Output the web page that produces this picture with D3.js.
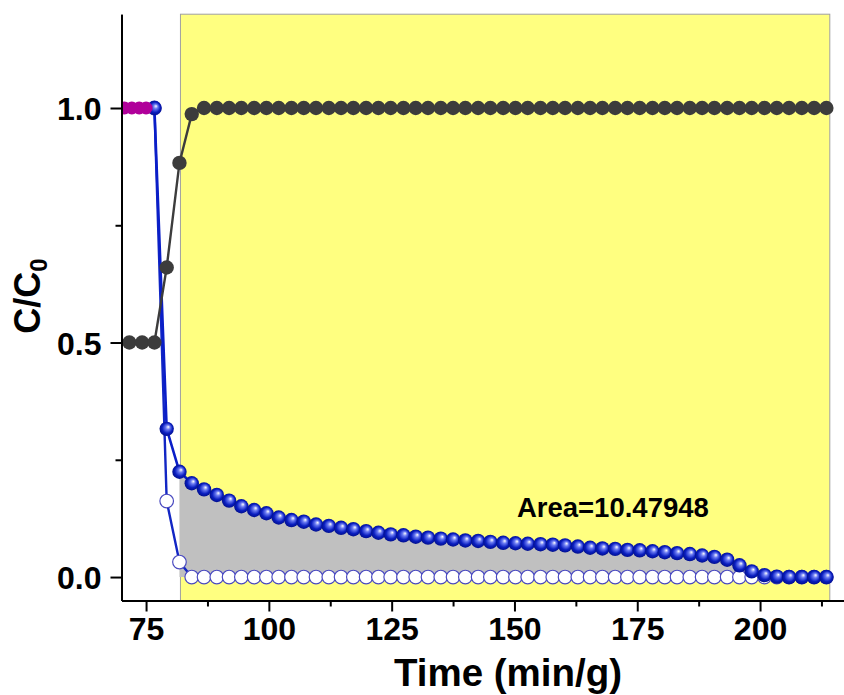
<!DOCTYPE html>
<html>
<head>
<meta charset="utf-8">
<script src="https://cdn.jsdelivr.net/npm/d3@7"></script>
<style>
  body { margin: 0; background: #fff; }
  svg { display: block; font-family: "Liberation Sans", Arial, sans-serif; }
</style>
</head>
<body>
<div id="chart"></div>
<script>
const FRAME_WIDTH = 844;
const FRAME_HEIGHT = 695;
const MARGINS = {left: 121.5, top: 14.2, bottom: 94.5};
const VIS_HEIGHT = FRAME_HEIGHT - MARGINS.top - MARGINS.bottom;

// time axis (min/g), one per sample
const TIMES = [71.6, 74.2, 76.7, 79.2, 81.8, 84.3, 86.8, 89.4, 91.9, 94.4,
               97.0, 99.5, 102.0, 104.6, 107.1, 109.6, 112.2, 114.7, 117.2, 119.8,
               122.3, 124.8, 127.4, 129.9, 132.4, 135.0, 137.5, 140.0, 142.6, 145.1,
               147.7, 150.2, 152.7, 155.3, 157.8, 160.3, 162.9, 165.4, 167.9, 170.5,
               173.0, 175.5, 178.1, 180.6, 183.1, 185.7, 188.2, 190.7, 193.3, 195.8,
               198.3, 200.9, 203.4, 205.9, 208.5, 211.0, 213.5];

// dark gray series
const GRAY_SERIES = [0.5, 0.5, 0.5, 0.66, 0.883, 0.987, 1, 1, 1, 1,
                     1, 1, 1, 1, 1, 1, 1, 1, 1, 1,
                     1, 1, 1, 1, 1, 1, 1, 1, 1, 1,
                     1, 1, 1, 1, 1, 1, 1, 1, 1, 1,
                     1, 1, 1, 1, 1, 1, 1, 1, 1, 1,
                     1, 1, 1, 1, 1, 1, 1];

// blue ball series
const BLUE_SERIES = [null, null, 1.0, 0.316, 0.2245, 0.200, 0.187, 0.175, 0.163, 0.151,
                     0.143, 0.136, 0.127, 0.1215, 0.118, 0.112, 0.109, 0.105, 0.102, 0.098,
                     0.0945, 0.091, 0.089, 0.086, 0.084, 0.082, 0.080, 0.078, 0.077, 0.075,
                     0.073, 0.072, 0.071, 0.070, 0.069, 0.0675, 0.065, 0.0625, 0.061, 0.060,
                     0.058, 0.057, 0.055, 0.053, 0.051, 0.049, 0.046, 0.043, 0.037, 0.025,
                     0.012, 0.004, 0.001, 0, 0, 0, 0];

// open circle series
const OPEN_SERIES = [null, null, 1.0, 0.162, 0.032, 0, 0, 0, 0, 0,
                     0, 0, 0, 0, 0, 0, 0, 0, 0, 0,
                     0, 0, 0, 0, 0, 0, 0, 0, 0, 0,
                     0, 0, 0, 0, 0, 0, 0, 0, 0, 0,
                     0, 0, 0, 0, 0, 0, 0, 0, 0, 0,
                     0, 0, 0, 0, 0, 0, 0];

// magenta points before the run
const MAGENTA_TIMES = [70.6, 72.1, 73.6, 75.0];
const MAGENTA_SERIES = [1, 1, 1, 1];

// highlighted window and integrated area
const WINDOW = [82.0, 214.2];
const AREA_FROM = 81.8;
const AREA_LABEL = "Area=10.47948";

const X_TICKS = [75, 100, 125, 150, 175, 200];
const X_MINOR = [87.5, 112.5, 137.5, 162.5, 187.5, 212.5];
const Y_TICKS = [0, 0.5, 1.0];
const Y_MINOR = [0.25, 0.75];

const SVG = d3.select("#chart")
  .append("svg")
    .attr("width", FRAME_WIDTH)
    .attr("height", FRAME_HEIGHT);

const X_SCALE = d3.scaleLinear()
  .domain([70, 218])
  .range([MARGINS.left, MARGINS.left + 148 * 4.912]);

const Y_SCALE = d3.scaleLinear()
  .domain([-0.05, 1.2])
  .range([MARGINS.top + VIS_HEIGHT, MARGINS.top]);

const defs = SVG.append("defs");
const grad = defs.append("radialGradient")
  .attr("id", "ball")
  .attr("cx", "50%").attr("cy", "50%").attr("r", "55%")
  .attr("fx", "62%").attr("fy", "36%");
grad.append("stop").attr("offset", "0%").attr("stop-color", "#ffffff");
grad.append("stop").attr("offset", "28%").attr("stop-color", "#6a7af2");
grad.append("stop").attr("offset", "65%").attr("stop-color", "#0a1ec0");
grad.append("stop").attr("offset", "100%").attr("stop-color", "#000c80");

defs.append("clipPath").attr("id", "plot")
  .append("rect")
    .attr("x", MARGINS.left)
    .attr("y", 0)
    .attr("width", FRAME_WIDTH)
    .attr("height", MARGINS.top + VIS_HEIGHT);

const PLOT = SVG.append("g").attr("clip-path", "url(#plot)");

// yellow window
PLOT.append("rect")
  .attr("x", X_SCALE(WINDOW[0]))
  .attr("y", Y_SCALE(1.2))
  .attr("width", X_SCALE(WINDOW[1]) - X_SCALE(WINDOW[0]))
  .attr("height", Y_SCALE(-0.05) - Y_SCALE(1.2))
  .attr("fill", "#ffff80")
  .attr("stroke", "#a0a0a0")
  .attr("stroke-width", 1);

const rows = (vals) => TIMES.map((t, i) => ({t: t, v: vals[i]})).filter(d => d.v !== null);
const GRAY_DATA = rows(GRAY_SERIES);
const BLUE_DATA = rows(BLUE_SERIES);
const OPEN_DATA = rows(OPEN_SERIES);
const MAGENTA_DATA = MAGENTA_TIMES.map((t, i) => ({t: t, v: MAGENTA_SERIES[i]}));

// shaded area under the blue curve inside the window
PLOT.append("path")
  .datum(BLUE_DATA.filter(d => d.t >= AREA_FROM))
  .attr("fill", "#c0c0c0")
  .attr("d", d3.area()
    .x(d => X_SCALE(d.t))
    .y0(Y_SCALE(0))
    .y1(d => Y_SCALE(d.v)));

const line = d3.line().x(d => X_SCALE(d.t)).y(d => Y_SCALE(d.v));

// open circles
PLOT.append("path").datum(OPEN_DATA)
  .attr("fill", "none").attr("stroke", "#1226c4").attr("stroke-width", 2.4)
  .attr("d", line);
PLOT.selectAll(".open").data(OPEN_DATA).enter().append("circle")
  .attr("cx", d => X_SCALE(d.t)).attr("cy", d => Y_SCALE(d.v)).attr("r", 6.8)
  .attr("fill", "#fff").attr("stroke", "#4a4ac0").attr("stroke-width", 1.2);

// blue balls
PLOT.append("path").datum(BLUE_DATA)
  .attr("fill", "none").attr("stroke", "#0a1ec8").attr("stroke-width", 2.6)
  .attr("d", line);
PLOT.selectAll(".ball").data(BLUE_DATA).enter().append("circle")
  .attr("cx", d => X_SCALE(d.t)).attr("cy", d => Y_SCALE(d.v)).attr("r", 7.2)
  .attr("fill", "url(#ball)");

// gray series
PLOT.append("path").datum(GRAY_DATA)
  .attr("fill", "none").attr("stroke", "#3c3c3c").attr("stroke-width", 2.4)
  .attr("d", line);
PLOT.selectAll(".gray").data(GRAY_DATA).enter().append("circle")
  .attr("cx", d => X_SCALE(d.t)).attr("cy", d => Y_SCALE(d.v)).attr("r", 7.2)
  .attr("fill", "#3c3c3c");

// magenta
PLOT.append("path").datum(MAGENTA_DATA)
  .attr("fill", "none").attr("stroke", "#b0009a").attr("stroke-width", 3)
  .attr("d", line);
PLOT.selectAll(".mag").data(MAGENTA_DATA).enter().append("circle")
  .attr("cx", d => X_SCALE(d.t)).attr("cy", d => Y_SCALE(d.v)).attr("r", 6.5)
  .attr("fill", "#b0009a");

// area label
SVG.append("text")
  .attr("x", X_SCALE(150.5))
  .attr("y", Y_SCALE(0.128))
  .attr("font-size", "27.5px")
  .attr("font-weight", "bold")
  .attr("fill", "#000")
  .text(AREA_LABEL);

// axes
const X_AXIS = SVG.append("g")
  .attr("transform", "translate(0," + Y_SCALE(-0.05) + ")")
  .call(d3.axisBottom(X_SCALE).tickValues(X_TICKS).tickSize(11).tickPadding(5).tickSizeOuter(0));
SVG.append("g")
  .attr("transform", "translate(0," + Y_SCALE(-0.05) + ")")
  .call(d3.axisBottom(X_SCALE).tickValues(X_MINOR).tickSize(6).tickFormat("").tickSizeOuter(0));

const Y_AXIS = SVG.append("g")
  .attr("transform", "translate(" + MARGINS.left + ",0)")
  .call(d3.axisLeft(Y_SCALE).tickValues(Y_TICKS).tickFormat(d3.format(".1f")).tickSize(11).tickPadding(9).tickSizeOuter(0));
SVG.append("g")
  .attr("transform", "translate(" + MARGINS.left + ",0)")
  .call(d3.axisLeft(Y_SCALE).tickValues(Y_MINOR).tickSize(6).tickFormat("").tickSizeOuter(0));

SVG.selectAll(".domain").attr("stroke", "#000").attr("stroke-width", 2);
SVG.selectAll(".tick line").attr("stroke", "#000").attr("stroke-width", 2);
SVG.selectAll(".tick text")
  .attr("font-family", "'Liberation Sans', Arial, sans-serif")
  .attr("font-size", "32px")
  .attr("font-weight", "bold")
  .attr("fill", "#000");
X_AXIS.selectAll(".tick text").attr("dy", "0.72em");
Y_AXIS.selectAll(".tick text").attr("dy", "0.36em");

// axis titles
SVG.append("text")
  .attr("x", 508)
  .attr("y", 686)
  .attr("text-anchor", "middle")
  .attr("font-size", "38.5px")
  .attr("font-weight", "bold")
  .text("Time (min/g)");

const Y_TITLE = SVG.append("text")
  .attr("transform", "translate(40,296) rotate(-90)")
  .attr("text-anchor", "middle")
  .attr("font-size", "36px")
  .attr("font-weight", "bold");
Y_TITLE.append("tspan").text("C/C");
Y_TITLE.append("tspan").attr("font-size", "24px").attr("dy", "7").text("0");
</script>
</body>
</html>
